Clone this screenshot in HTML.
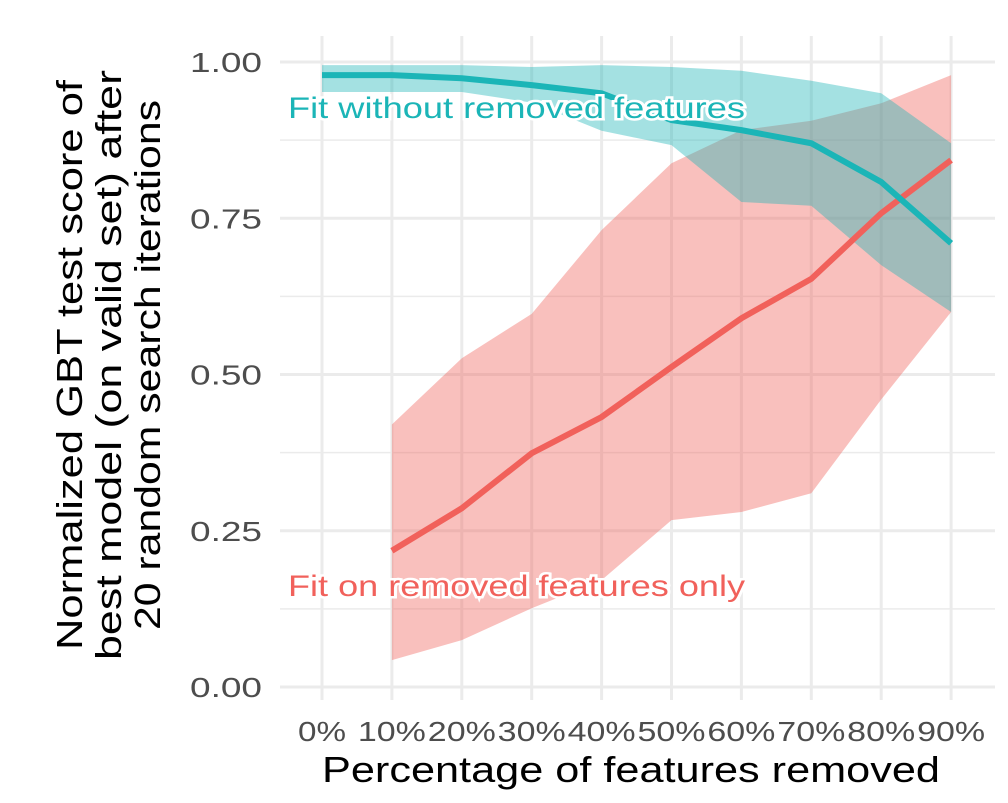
<!DOCTYPE html>
<html><head><meta charset="utf-8"><style>
body{margin:0;background:#fff;}
svg text{font-family:"Liberation Sans",Arial,sans-serif;}
</style></head><body>
<svg width="1008" height="798" xmlns="http://www.w3.org/2000/svg">
<g id="grid"></g><g id="bands"></g><g id="lines"></g><g id="ticks"></g>
<text x="288" y="118" font-size="30" textLength="457" lengthAdjust="spacingAndGlyphs" fill="#1BB5B7" stroke="#fff" stroke-width="5" paint-order="stroke">Fit without removed features</text>
<text x="288" y="596" font-size="30" textLength="457" lengthAdjust="spacingAndGlyphs" fill="#F1615B" stroke="#fff" stroke-width="5" paint-order="stroke">Fit on removed features only</text>
<text x="631" y="782" font-size="36" textLength="618" lengthAdjust="spacingAndGlyphs" fill="#000" text-anchor="middle">Percentage of features removed</text>
<g transform="translate(0,365) rotate(-90)">
<text x="0" y="82" font-size="36" textLength="570" lengthAdjust="spacingAndGlyphs" text-anchor="middle">Normalized GBT test score of</text>
<text x="0" y="121" font-size="36" textLength="590" lengthAdjust="spacingAndGlyphs" text-anchor="middle">best model (on valid set) after</text>
<text x="0" y="160" font-size="36" textLength="530" lengthAdjust="spacingAndGlyphs" text-anchor="middle">20 random search iterations</text>
</g>
</svg>
<script>
const categories=[0,10,20,30,40,50,60,70,80,90];
const tealMean=[0.979,0.979,0.974,0.963,0.95,0.907,0.891,0.87,0.808,0.71];
const tealUpper=[0.995,0.995,0.995,0.992,0.995,0.992,0.986,0.97,0.95,0.87];
const tealLower=[0.952,0.952,0.952,0.935,0.89,0.867,0.776,0.77,0.675,0.60];
const redCats=[10,20,30,40,50,60,70,80,90];
const redMean=[0.218,0.286,0.374,0.432,0.512,0.59,0.653,0.758,0.843];
const redUpper=[0.42,0.526,0.597,0.731,0.838,0.891,0.906,0.934,0.979];
const redLower=[0.043,0.075,0.126,0.171,0.267,0.28,0.31,0.46,0.60];
const yTicks=[0,0.25,0.5,0.75,1];
const yTickLabels=["0.00","0.25","0.50","0.75","1.00"];
const xTickLabels=["0%","10%","20%","30%","40%","50%","60%","70%","80%","90%"];
const NS="http://www.w3.org/2000/svg";
const X=v=>322+v*6.99, Y=v=>687-v*625;
function mk(p,t,a){const e=document.createElementNS(NS,t);for(const k in a)e.setAttribute(k,a[k]);document.getElementById(p).appendChild(e);return e;}
for(let i=0;i<=8;i++){const v=i*0.125;
const l=mk('grid','line',{x1:280,x2:995,y1:Y(v),y2:Y(v),stroke:'#EBEBEB','stroke-width':i%2?1.5:3});

}
categories.forEach(c=>{const l=mk('grid','line',{x1:X(c),x2:X(c),y1:36,y2:700,stroke:'#EBEBEB','stroke-width':3});

});
function band(cs,up,lo,fill,name){let pts=cs.map((c,i)=>X(c)+','+Y(up[i]));
for(let i=cs.length-1;i>=0;i--)pts.push(X(cs[i])+','+Y(lo[i]));
const p=mk('bands','polygon',{points:pts.join(' '),fill:fill,'fill-opacity':0.4});

}
band(redCats,redUpper,redLower,'#F1615B','band-fit-on-removed');
band(categories,tealUpper,tealLower,'#1BB5B7','band-fit-without');
function line(cs,m,col,name){const p=mk('lines','polyline',{points:cs.map((c,i)=>X(c)+','+Y(m[i])).join(' '),fill:'none',stroke:col,'stroke-width':6});

}
line(redCats,redMean,'#F1615B','line-fit-on-removed');
line(categories,tealMean,'#1BB5B7','line-fit-without');
yTicks.forEach((v,i)=>{const t=mk('ticks','text',{x:262,y:Y(v)+10,'font-size':28,textLength:72,lengthAdjust:'spacingAndGlyphs',fill:'#4D4D4D','text-anchor':'end'});t.textContent=yTickLabels[i];

});
categories.forEach((c,i)=>{const t=mk('ticks','text',{x:X(c),y:741,'font-size':28,textLength:i?68:48,lengthAdjust:'spacingAndGlyphs',fill:'#4D4D4D','text-anchor':'middle'});t.textContent=xTickLabels[i];

});
</script>
</body></html>
